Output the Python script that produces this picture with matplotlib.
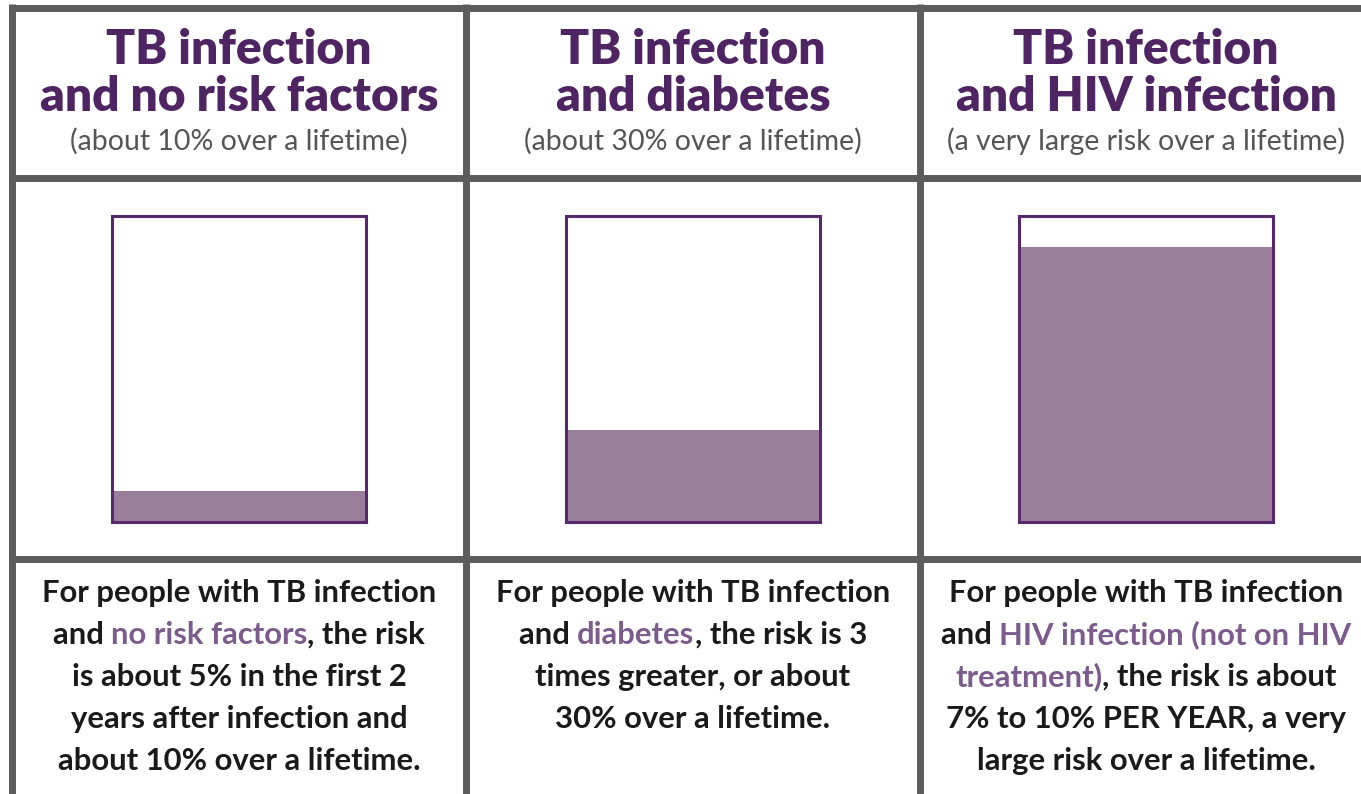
import matplotlib
matplotlib.use('Agg')
import matplotlib.pyplot as plt

# --- data ---
titles = ['TB infection\nand no risk factors', 'TB infection\nand diabetes', 'TB infection\nand HIV infection']
subtitles = ['(about 10% over a lifetime)', '(about 30% over a lifetime)', '(a very large risk over a lifetime)']
risk_pct = [10, 30, 90]
# body text: lines of (text, highlighted?) pieces
body_lines = [
    [[('For people with TB infection', False)],
     [('and ', False), ('no risk factors', True), (', the risk', False)],
     [('is about 5% in the first 2', False)],
     [('years after infection and', False)],
     [('about 10% over a lifetime.', False)]],
    [[('For people with TB infection', False)],
     [('and ', False), ('diabetes', True), (', the risk is 3', False)],
     [('times greater, or about', False)],
     [('30% over a lifetime.', False)]],
    [[('For people with TB infection', False)],
     [('and ', False), ('HIV infection (not on HIV', True)],
     [('treatment)', True), (', the risk is about', False)],
     [('7% to 10% PER YEAR, a very', False)],
     [('large risk over a lifetime.', False)]],
]

W, H = 1361, 794
FONT = 'Lato'
PURPLE = '#4e2463'
OUTLINE = '#55296b'
FILL = '#9a7f9c'
HILITE = '#7b5c8d'
GRID = '#5c5c5c'

fig = plt.figure(figsize=(W / 100, H / 100), dpi=100)
bg = fig.add_axes([0, 0, 1, 1])
bg.set_xlim(0, W)
bg.set_ylim(H, 0)
bg.axis('off')

# table grid
col_edges = [12.5, 466, 920, 1374]
row_edges = [8, 178, 559]
for x in col_edges:
    bg.plot([x, x], [4, H + 5], color=GRID, lw=5, solid_capstyle='butt')
for y in row_edges:
    bg.plot([9, W + 5], [y, y], color=GRID, lw=5, solid_capstyle='butt')

renderer = fig.canvas.get_renderer()


def rich_line(cx, y, pieces, size):
    texts = []
    for s, hl in pieces:
        t = bg.text(0, y, s, fontsize=size, fontfamily=FONT, fontweight='bold',
                    color=HILITE if hl else '#1a1a1a', va='baseline', ha='left')
        texts.append(t)
    widths = [t.get_window_extent(renderer).width for t in texts]
    x = cx - sum(widths) / 2
    for t, w in zip(texts, widths):
        t.set_x(x)
        x += w


centers = [239, 693, 1146]
box_left = [112, 566, 1019]
box_w, box_top, box_bot = 254, 216, 522

for i, cx in enumerate(centers):
    l1, l2 = titles[i].split('\n')
    bg.text(cx, 64, l1, ha='center', va='baseline', fontsize=34.5, fontweight='heavy',
            fontfamily=FONT, color=PURPLE)
    bg.text(cx, 111, l2, ha='center', va='baseline', fontsize=34.5, fontweight='heavy',
            fontfamily=FONT, color=PURPLE)
    bg.text(cx, 150, subtitles[i], ha='center', va='baseline', fontsize=20.5,
            fontfamily=FONT, color='#555555')

    # risk box
    ax = fig.add_axes([box_left[i] / W, (H - box_bot) / H, box_w / W, (box_bot - box_top) / H])
    ax.bar([0], [risk_pct[i]], width=1, color=FILL, edgecolor='none')
    ax.set_xlim(-0.5, 0.5)
    ax.set_ylim(0, 100)
    ax.set_xticks([])
    ax.set_yticks([])
    for sp in ax.spines.values():
        sp.set_color(OUTLINE)
        sp.set_linewidth(2.2)

    for j, pieces in enumerate(body_lines[i]):
        rich_line(cx, 602 + j * 42, pieces, 22.3)

fig.savefig('out.png', dpi=100)
